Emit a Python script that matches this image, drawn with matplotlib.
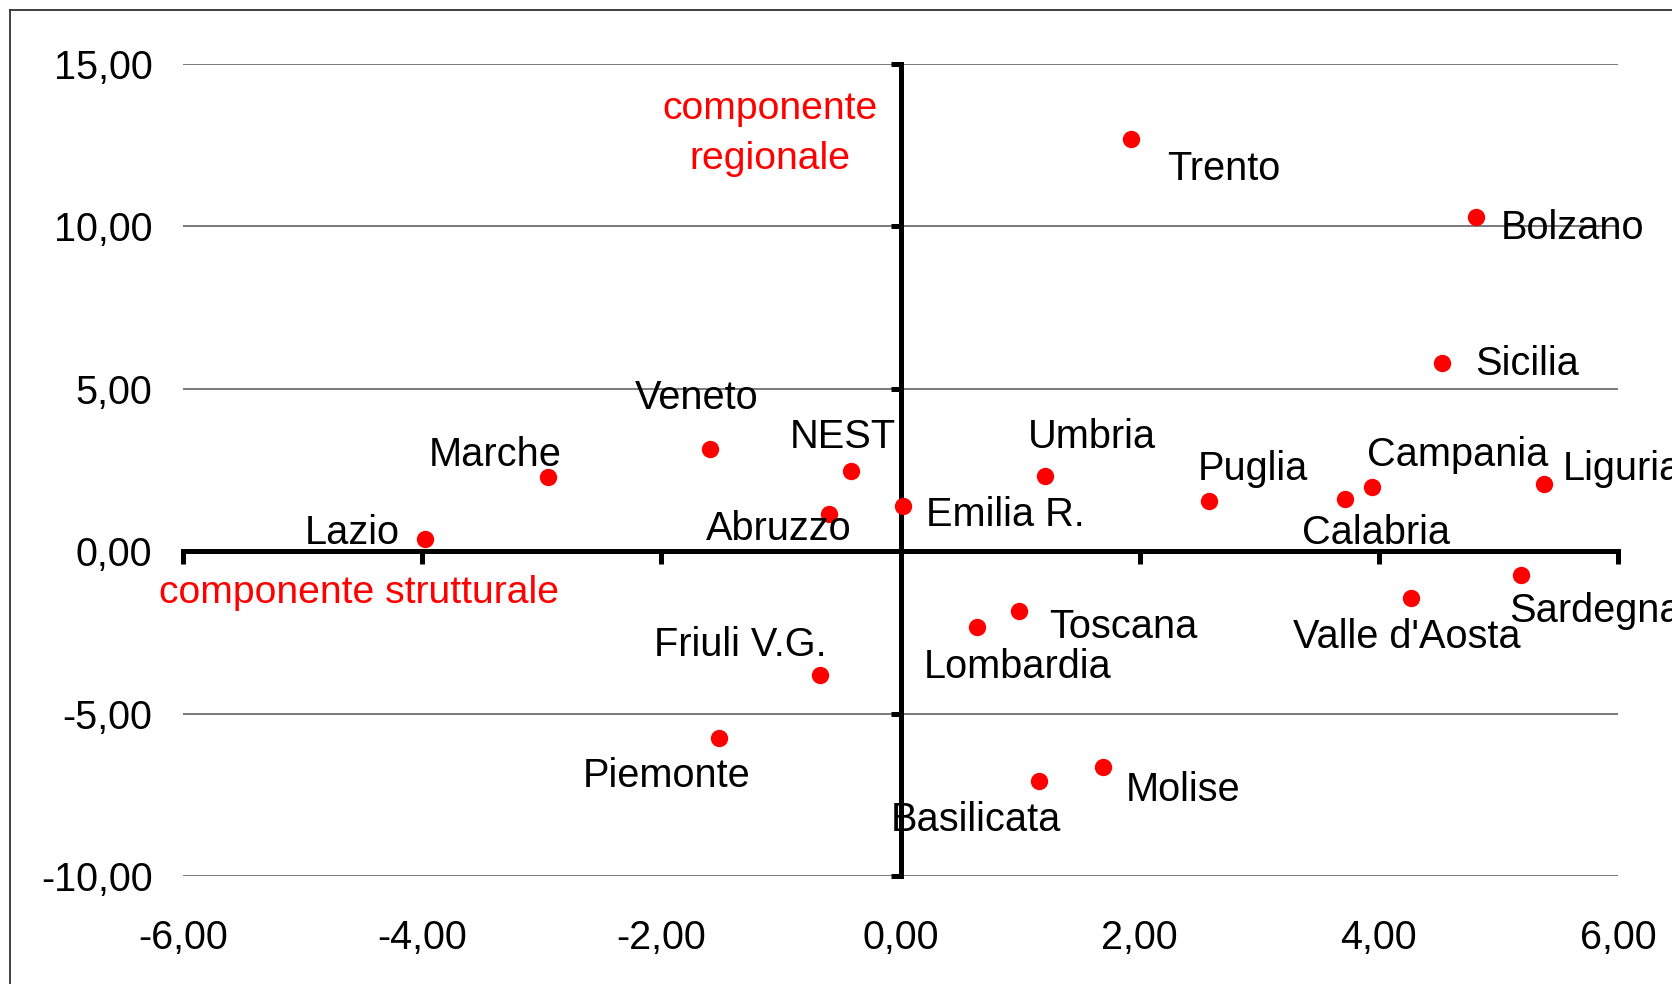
import matplotlib
matplotlib.use("Agg")
import matplotlib.pyplot as plt
from matplotlib.lines import Line2D
from matplotlib.ticker import FuncFormatter

plt.rcParams['font.family'] = ['Liberation Sans', 'DejaVu Sans']

# data: x = componente strutturale, y = componente regionale
regions = ["Trento", "Bolzano", "Sicilia", "Liguria", "Campania", "Calabria",
           "Puglia", "Umbria", "Emilia R.", "NEST", "Abruzzo", "Veneto",
           "Marche", "Lazio", "Friuli V.G.", "Piemonte", "Lombardia", "Toscana",
           "Basilicata", "Molise", "Valle d'Aosta", "Sardegna"]
x_vals = [1.93, 4.81, 4.53, 5.38, 3.94, 3.72,
          2.58, 1.21, 0.02, -0.41, -0.60, -1.59,
          -2.95, -3.98, -0.67, -1.52, 0.64, 0.99,
          1.16, 1.69, 4.27, 5.19]
y_vals = [12.68, 10.28, 5.80, 2.06, 1.97, 1.60,
          1.54, 2.33, 1.38, 2.46, 1.15, 3.14,
          2.29, 0.39, -3.80, -5.76, -2.33, -1.83,
          -7.07, -6.65, -1.44, -0.72]
x_ticks = [-6, -4, -2, 0, 2, 4, 6]
y_ticks = [-10, -5, 0, 5, 10, 15]

# label offsets in pixels (left edge of text, vertical centre)
offsets = {
    "Trento": (36, -26), "Bolzano": (25, -7), "Sicilia": (33, 3),
    "Liguria": (19, 19), "Campania": (-5, 36), "Calabria": (-43, -30),
    "Puglia": (-11, 36), "Umbria": (-17, 43), "Emilia R.": (23, -5),
    "NEST": (-62, 38), "Abruzzo": (-123, -11), "Veneto": (-76, 55),
    "Marche": (-119, 26), "Lazio": (-120, 10), "Friuli V.G.": (-166, 34),
    "Piemonte": (-136, -34), "Lombardia": (-53, -36), "Toscana": (30, -12),
    "Basilicata": (-148, -35), "Molise": (23, -19),
    "Valle d'Aosta": (-118, -35), "Sardegna": (-12, -32),
}

W, H = 1672, 984
fig = plt.figure(figsize=(W / 100, H / 100), dpi=100)
ax = fig.add_axes([183 / W, 1 - 876 / H, (1618 - 183) / W, (876 - 64) / H])

ax.set_xlim(-6, 6)
ax.set_ylim(-10, 15)

# thin horizontal grid lines
for yv in y_ticks:
    if yv != 0:
        ax.axhline(yv, color='#555555', lw=1.1, zorder=1)

# axes crossing at zero
ax.spines['left'].set_position(('data', 0))
ax.spines['bottom'].set_position(('data', 0))
ax.spines['top'].set_visible(False)
ax.spines['right'].set_visible(False)
for s in ('left', 'bottom'):
    ax.spines[s].set_linewidth(3.6)
    ax.spines[s].set_zorder(2)
ax.set_xticks(x_ticks)
ax.set_yticks(y_ticks)
ax.tick_params(axis='x', direction='out', length=9, width=3.6, labelbottom=False)
ax.tick_params(axis='y', direction='out', length=7, width=3.6, labelleft=False)

fmt = FuncFormatter(lambda v, p: f"{v:.2f}".replace('.', ','))

# tick labels at the edges of the plot area
secx = ax.secondary_xaxis('bottom')
secx.set_xticks(x_ticks)
secx.xaxis.set_major_formatter(fmt)
secx.tick_params(length=0, pad=31, labelsize=28.5)
secx.spines['bottom'].set_visible(False)

secy = ax.secondary_yaxis('left')
secy.set_yticks(y_ticks)
secy.yaxis.set_major_formatter(fmt)
secy.tick_params(length=0, pad=22, labelsize=28.5)
secy.spines['left'].set_visible(False)

ax.plot(x_vals, y_vals, 'o', color='#ff0000', markersize=12.5,
        markeredgewidth=0, zorder=4, clip_on=False)

for name, xv, yv in zip(regions, x_vals, y_vals):
    dx, dy = offsets[name]
    ax.annotate(name, (xv, yv), xytext=(dx, dy - 4), textcoords='offset pixels',
                ha='left', va='center', fontsize=28.6, color='black',
                zorder=5, annotation_clip=False)

ax.text(-1.09, 12.85, "componente\nregionale", color='#ff0000', fontsize=28.2,
        ha='center', va='center', linespacing=1.48, zorder=5)
ax.text(-6.2, -1.3, "componente strutturale", color='#ff0000', fontsize=28.2,
        ha='left', va='center', zorder=5)

# outer frame (only left and top edges visible)
fig.add_artist(Line2D([10 / W, 10 / W], [0, 1 - 10 / H], color='#333333', lw=1.3))
fig.add_artist(Line2D([10 / W, 1], [1 - 10 / H, 1 - 10 / H], color='#333333', lw=1.3))

fig.savefig("out.png", dpi=100)
